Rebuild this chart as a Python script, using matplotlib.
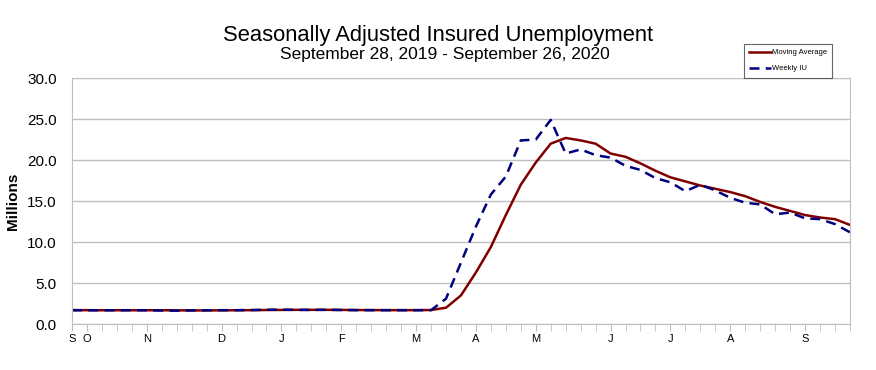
"""Seasonally adjusted insured unemployment, Sep 2019 - Sep 2020."""

import matplotlib

matplotlib.use("Agg")
import matplotlib.pyplot as plt
import numpy as np

plt.rcParams["font.family"] = ["Liberation Sans", "DejaVu Sans"]

# weekly values (millions), week ending Sep 28 2019 .. Sep 26 2020
weekly_iu = [1.70, 1.69, 1.69, 1.69, 1.70, 1.69, 1.66, 1.64, 1.68, 1.69,
             1.70, 1.70, 1.72, 1.75, 1.76, 1.74, 1.73, 1.75, 1.72, 1.70,
             1.70, 1.70, 1.70, 1.70, 1.70, 3.1, 7.5, 11.9, 15.8, 18.0,
             22.4, 22.5, 24.9, 20.8, 21.3, 20.6, 20.3, 19.3, 18.8, 17.8,
             17.3, 16.2, 17.0, 16.3, 15.4, 14.8, 14.6, 13.4, 13.6, 12.9,
             12.8, 12.2, 11.2]
moving_avg = [1.70, 1.70, 1.69, 1.69, 1.69, 1.69, 1.69, 1.68, 1.67, 1.67,
              1.68, 1.69, 1.70, 1.72, 1.73, 1.74, 1.74, 1.74, 1.73, 1.72,
              1.71, 1.70, 1.70, 1.70, 1.72, 2.0, 3.5, 6.3, 9.4, 13.3,
              17.0, 19.7, 22.0, 22.7, 22.4, 22.0, 20.8, 20.4, 19.6, 18.7,
              17.9, 17.4, 16.9, 16.5, 16.1, 15.6, 14.9, 14.3, 13.8, 13.3,
              13.0, 12.8, 12.1]
month_idx = [0, 1, 5, 10, 14, 18, 23, 27, 31, 36, 40, 44, 49]
month_lbl = ["S", "O", "N", "D", "J", "F", "M", "A", "M", "J", "J", "A", "S"]

grey = "#bfbfbf"

fig = plt.figure(figsize=(8.76, 3.70), dpi=100)
ax = fig.add_axes([0.0822, 0.124, 0.888, 0.665])

x = np.arange(len(weekly_iu))
ax.plot(x, moving_avg, color="#800000", lw=1.8, label="Moving Average")
ax.plot(x, weekly_iu, color="#000080", lw=1.8, dashes=(4, 2.5),
        label="Weekly IU")

ax.set_xlim(0, len(weekly_iu) - 1)
ax.set_ylim(0, 30)
ax.set_yticks(np.arange(0, 30.1, 5))
ax.set_yticklabels([f"{v:.1f}" for v in np.arange(0, 30.1, 5)], fontsize=11)
ax.yaxis.grid(True, color=grey, lw=1)
ax.set_axisbelow(True)
ax.tick_params(axis="y", length=0, pad=11)

ax.set_xticks(x, minor=True)
ax.set_xticks(month_idx)
ax.set_xticklabels(month_lbl, fontsize=8)
ax.tick_params(axis="x", which="both", length=5, color=grey, pad=2)

for s in ax.spines.values():
    s.set_color(grey)

ax.set_ylabel("Millions", fontsize=11, fontweight="bold", labelpad=5)

fig.text(0.5, 0.888, "Seasonally Adjusted Insured Unemployment",
         ha="center", va="baseline", fontsize=15.8)
fig.text(0.508, 0.84, "September 28, 2019 - September 26, 2020",
         ha="center", va="baseline", fontsize=12.5)

leg = fig.legend(loc="upper left", bbox_to_anchor=(0.845, 0.892),
                 fontsize=5.5, frameon=True, fancybox=False,
                 handlelength=2.8, handletextpad=0.1, borderpad=0.7,
                 labelspacing=1.1)
leg.get_frame().set_edgecolor("#404040")
leg.get_frame().set_linewidth(0.8)

fig.savefig("out.png", dpi=100)
